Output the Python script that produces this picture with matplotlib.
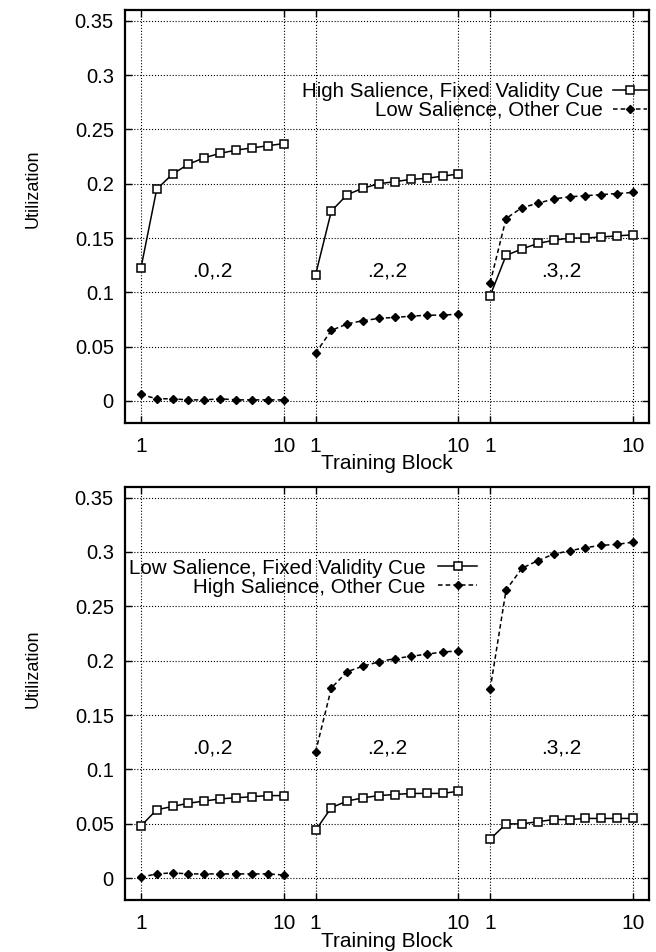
import matplotlib
matplotlib.use("Agg")
import matplotlib.pyplot as plt
import numpy as np

plt.rcParams['font.family'] = ['Liberation Sans', 'DejaVu Sans']

blocks = np.arange(1, 11)
groups = [".0,.2", ".2,.2", ".3,.2"]

# top panel: high salience fixed validity cue / low salience other cue
top_fixed = [
    [0.122, 0.195, 0.209, 0.218, 0.224, 0.228, 0.231, 0.233, 0.235, 0.237],
    [0.116, 0.175, 0.190, 0.196, 0.200, 0.202, 0.204, 0.205, 0.207, 0.209],
    [0.097, 0.134, 0.140, 0.145, 0.148, 0.150, 0.150, 0.151, 0.152, 0.153],
]
top_other = [
    [0.006, 0.002, 0.002, 0.001, 0.001, 0.002, 0.001, 0.001, 0.001, 0.001],
    [0.044, 0.065, 0.071, 0.074, 0.076, 0.077, 0.078, 0.079, 0.079, 0.080],
    [0.109, 0.168, 0.178, 0.182, 0.186, 0.188, 0.189, 0.190, 0.191, 0.192],
]
# bottom panel: low salience fixed validity cue / high salience other cue
bot_fixed = [
    [0.048, 0.063, 0.066, 0.069, 0.071, 0.073, 0.074, 0.075, 0.076, 0.076],
    [0.044, 0.065, 0.071, 0.074, 0.076, 0.077, 0.078, 0.078, 0.078, 0.080],
    [0.036, 0.050, 0.050, 0.052, 0.054, 0.054, 0.055, 0.055, 0.055, 0.055],
]
bot_other = [
    [0.001, 0.004, 0.005, 0.004, 0.004, 0.004, 0.004, 0.004, 0.004, 0.003],
    [0.116, 0.175, 0.190, 0.195, 0.199, 0.202, 0.204, 0.206, 0.208, 0.209],
    [0.174, 0.265, 0.285, 0.292, 0.298, 0.301, 0.304, 0.306, 0.307, 0.309],
]

panels = [
    (top_fixed, top_other, "High Salience, Fixed Validity Cue", "Low Salience, Other Cue"),
    (bot_fixed, bot_other, "Low Salience, Fixed Validity Cue", "High Salience, Other Cue"),
]

yticks = [0, 0.05, 0.1, 0.15, 0.2, 0.25, 0.3, 0.35]
ytick_labels = ["0", "0.05", "0.1", "0.15", "0.2", "0.25", "0.3", "0.35"]
offset = 11  # each group shifted along x

fig = plt.figure(figsize=(6.56, 9.52), dpi=100)
ax_pos = [[0.1905, 0.556, 0.7988, 0.4335], [0.1905, 0.0546, 0.7988, 0.4342]]
leg_pos = [(0.996, 0.826), (0.672, 0.826)]
leg_hl = [1.65, 1.9]
leg_pad = [0.5, 0.6]
ylab_y = [0.802, 0.298]

for p, (fixed, other, lab1, lab2) in enumerate(panels):
    ax = fig.add_axes(ax_pos[p])
    xt = []
    for g in range(3):
        x = blocks + g * offset
        ax.plot(x, fixed[g], color='black', lw=1.1, ls='-', marker='s', ms=6,
                mfc='white', mec='black', mew=1.1, label=lab1 if g == 0 else None)
        ax.plot(x, other[g], color='black', lw=1.1, ls=(0, (3, 2)), marker='D', ms=4,
                mfc='black', mec='black', label=lab2 if g == 0 else None)
        ax.text(5.5 + g * offset, 0.12, groups[g], ha='center', va='center', fontsize=15)
        xt += [1 + g * offset, 10 + g * offset]
    ax.set_xlim(0, 33)
    ax.set_ylim(-0.02, 0.36)
    ax.set_xticks(xt)
    ax.set_xticklabels(["1", "10", "1", "10", "1", "10"], fontsize=15)
    ax.set_yticks(yticks)
    ax.set_yticklabels(ytick_labels, fontsize=14.5)
    ax.tick_params(direction='in', length=5, width=1, top=True, right=True, pad=8)
    ax.tick_params(axis='x', pad=10)
    ax.grid(True, color='black', ls=':', lw=0.8)
    for s in ax.spines.values():
        s.set_linewidth(1.6)
    ax.set_xlabel("Training Block", fontsize=15, labelpad=-1)
    leg = ax.legend(loc='upper right', bbox_to_anchor=leg_pos[p], frameon=False,
                    fontsize=14.8, markerfirst=False, handlelength=leg_hl[p],
                    handletextpad=leg_pad[p], labelspacing=0.0, borderaxespad=0,
                    borderpad=0)
    for t in leg.get_texts():
        t.set_ha('right')
    fig.text(0.05, ylab_y[p], "Utilization", rotation=90, ha='center', va='center',
             fontsize=13, family=['Liberation Sans Narrow', 'Liberation Sans'])

fig.savefig("out.png", dpi=100)
